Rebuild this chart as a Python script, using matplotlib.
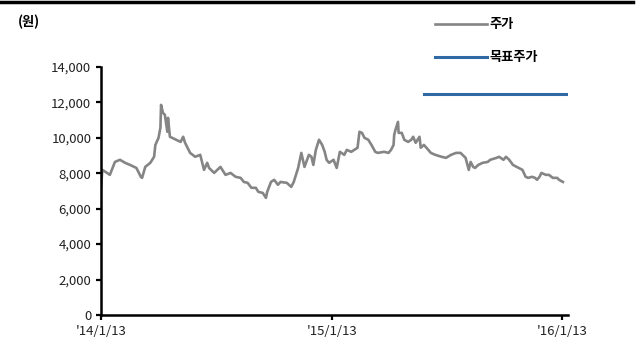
import pandas as pd
import matplotlib
matplotlib.use("Agg")
import matplotlib.pyplot as plt
import matplotlib.dates as mdates
from matplotlib.lines import Line2D
from matplotlib.ticker import FuncFormatter, MultipleLocator

plt.rcParams['font.family'] = ['Noto Sans CJK KR', 'DejaVu Sans']

# 주가 (원)
price_dates = [
    "2014-01-13", "2014-01-15", "2014-01-20", "2014-01-27", "2014-02-04", "2014-02-12",
    "2014-02-20", "2014-02-28", "2014-03-10", "2014-03-17", "2014-03-19", "2014-03-24",
    "2014-04-01", "2014-04-07", "2014-04-09", "2014-04-14", "2014-04-17", "2014-04-18",
    "2014-04-21", "2014-04-24", "2014-04-28", "2014-04-29", "2014-05-02", "2014-05-12",
    "2014-05-19", "2014-05-23", "2014-05-26", "2014-06-03", "2014-06-11", "2014-06-19",
    "2014-06-25", "2014-06-30", "2014-07-03", "2014-07-11", "2014-07-21", "2014-07-29",
    "2014-08-06", "2014-08-14", "2014-08-22", "2014-08-27", "2014-09-02", "2014-09-08",
    "2014-09-15", "2014-09-19", "2014-09-26", "2014-10-01", "2014-10-03", "2014-10-09",
    "2014-10-14", "2014-10-20", "2014-10-24", "2014-11-03", "2014-11-10", "2014-11-14",
    "2014-11-21", "2014-11-26", "2014-12-01", "2014-12-08", "2014-12-12", "2014-12-15",
    "2014-12-19", "2014-12-24", "2014-12-29", "2015-01-02", "2015-01-05", "2015-01-09",
    "2015-01-16", "2015-01-21", "2015-01-26", "2015-02-02", "2015-02-06", "2015-02-13",
    "2015-02-23", "2015-02-26", "2015-03-02", "2015-03-06", "2015-03-12", "2015-03-17",
    "2015-03-23", "2015-03-27", "2015-04-06", "2015-04-13", "2015-04-17", "2015-04-21",
    "2015-04-22", "2015-04-24", "2015-04-28", "2015-04-29", "2015-05-04", "2015-05-08",
    "2015-05-14", "2015-05-19", "2015-05-22", "2015-05-26", "2015-06-01", "2015-06-03",
    "2015-06-08", "2015-06-15", "2015-06-19", "2015-06-26", "2015-07-06", "2015-07-13",
    "2015-07-21", "2015-07-29", "2015-08-05", "2015-08-13", "2015-08-18", "2015-08-21",
    "2015-08-25", "2015-08-28", "2015-09-02", "2015-09-09", "2015-09-17", "2015-09-21",
    "2015-10-01", "2015-10-05", "2015-10-12", "2015-10-16", "2015-10-21", "2015-10-27",
    "2015-11-02", "2015-11-05", "2015-11-11", "2015-11-16", "2015-11-20", "2015-11-26",
    "2015-12-01", "2015-12-04", "2015-12-08", "2015-12-11", "2015-12-18", "2015-12-23",
    "2015-12-29", "2016-01-05", "2016-01-08", "2016-01-14",
]
price_values = [
    7180, 8190, 8080, 7910, 8640, 8760,
    8590, 8470, 8300, 7800, 7740, 8360,
    8590, 8930, 9600, 10000, 10570, 11860,
    11410, 11300, 10340, 11130, 10060, 9890,
    9770, 10060, 9720, 9150, 8930, 9040,
    8190, 8590, 8300, 8020, 8360, 7910,
    8020, 7800, 7740, 7510, 7460, 7180,
    7180, 6950, 6890, 6610, 6950, 7510,
    7630, 7350, 7510, 7460, 7230, 7510,
    8300, 9150, 8360, 9040, 8930, 8470,
    9320, 9890, 9600, 9210, 8760, 8590,
    8760, 8300, 9210, 9040, 9320, 9210,
    9440, 10340, 10280, 10000, 9890, 9600,
    9210, 9150, 9210, 9150, 9320, 9600,
    10170, 10450, 10900, 10280, 10280, 9890,
    9770, 9890, 10060, 9720, 10060, 9440,
    9600, 9320, 9150, 9040, 8930, 8870,
    9040, 9150, 9150, 8870, 8190, 8640,
    8360, 8300, 8470, 8590, 8640, 8760,
    8870, 8930, 8760, 8930, 8760, 8470,
    8360, 8300, 8190, 7800, 7740, 7800,
    7740, 7630, 7800, 8020, 7910, 7910,
    7740, 7740, 7630, 7510,
]

# 목표주가 (원)
target_dates = ["2015-06-08", "2016-01-22"]
target_values = [12500, 12500]

x_start, x_end = "2014-01-13", "2016-01-22"
x_ticks = ["2014-01-13", "2015-01-13", "2016-01-13"]
x_tick_labels = ["'14/1/13", "'15/1/13", "'16/1/13"]

price = pd.Series(price_values, index=pd.to_datetime(price_dates))
target = pd.Series(target_values, index=pd.to_datetime(target_dates))

fig = plt.figure(figsize=(6.37, 3.6), dpi=100)
ax = fig.add_axes([0.1586, 0.125, 0.733, 0.689])

ax.plot(price.index, price.values, color="#858585", lw=1.9, label="주가")
ax.plot(target.index, target.values, color="#2f6aa6", lw=2.2, label="목표주가")

ax.set_ylim(0, 14000)
ax.yaxis.set_major_locator(MultipleLocator(2000))
ax.yaxis.set_major_formatter(FuncFormatter(lambda v, p: f"{int(v):,}"))
ax.set_xlim(pd.Timestamp(x_start), pd.Timestamp(x_end))
ax.set_xticks(pd.to_datetime(x_ticks))
ax.set_xticklabels(x_tick_labels)

for side in ["top", "right"]:
    ax.spines[side].set_visible(False)
for side in ["left", "bottom"]:
    ax.spines[side].set_linewidth(1.8)
ax.tick_params(axis="both", direction="out", length=3.5, width=1.6,
               labelsize=9.5, colors="black", labelcolor="#222222")
ax.tick_params(axis="x", pad=4)

ax.legend(loc="upper left", bbox_to_anchor=(0.665, 0.985), bbox_transform=fig.transFigure,
          frameon=False, handlelength=3.9, handletextpad=0.2, labelspacing=1.45,
          prop={"size": 9.5, "weight": "bold"})

fig.text(0.028, 0.938, "(원)", fontsize=9.5, fontweight="bold", va="center", ha="left")

# 상단 구분선
fig.add_artist(Line2D([0.0, 0.993], [0.994, 0.994], transform=fig.transFigure,
                      color="black", lw=2.5))

fig.savefig("out.png", dpi=100)
